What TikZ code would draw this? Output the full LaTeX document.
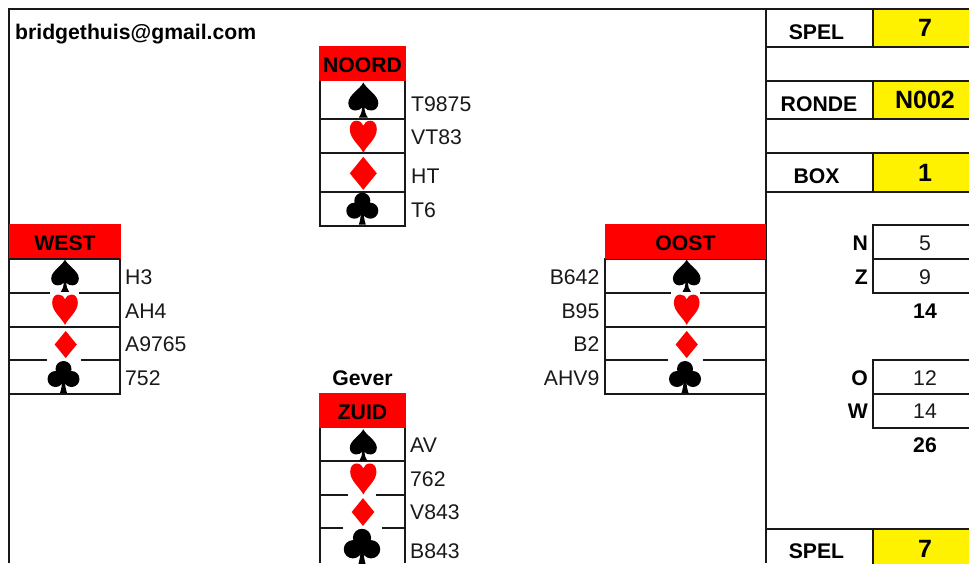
\documentclass[tikz,border=0pt]{standalone}
\usepackage{fontspec}
\setmainfont{Liberation Sans}
\usepackage{tikz}
\usetikzlibrary{positioning}

\tikzset{
  grid/.style={line width=1.5pt, black!90},
  label/.style={font=\fontsize{21.2}{21.2}\selectfont, inner sep=0pt, text=black!90},
  boldlabel/.style={label, font=\fontsize{21.2}{21.2}\selectfont\bfseries, text=black},
  header/.style={boldlabel, fill=red, minimum height=35pt, text height=18pt, text depth=0pt},
  valuecell/.style={font=\fontsize{25}{25}\selectfont\bfseries, fill=yellow, draw=black!90, line width=1.5pt,
    minimum width=104pt, inner sep=0pt, text=black},
  spadesuit/.pic={
    \fill[black] (0,-17.5) .. controls (-3,-11) and (-15,-5) .. (-15,3) .. controls (-15,8) and (-11.5,10.5) .. (-8,10.5)
      .. controls (-5,10.5) and (-3,9.5) .. (-1.2,7.5) .. controls (-1.2,11) and (-2.5,15) .. (-4.5,17.5) -- (4.5,17.5)
      .. controls (2.5,15) and (1.2,11) .. (1.2,7.5) .. controls (3,9.5) and (5,10.5) .. (8,10.5)
      .. controls (11.5,10.5) and (15,8) .. (15,3) .. controls (15,-5) and (3,-11) .. (0,-17.5) -- cycle;
  },
  heartsuit/.pic={
    \fill[red] (0,16) .. controls (-4,8) and (-13.5,2) .. (-13.5,-7.5) .. controls (-13.5,-13) and (-10.5,-16) .. (-7,-16)
      .. controls (-3.5,-16) and (-1,-14) .. (0,-11) .. controls (1,-14) and (3.5,-16) .. (7,-16)
      .. controls (10.5,-16) and (13.5,-13) .. (13.5,-7.5) .. controls (13.5,2) and (4,8) .. (0,16) -- cycle;
  },
  diamondsuit/.pic={
    \fill[red] (0,-16.5) -- (13.5,0) -- (0,16.5) -- (-13.5,0) -- cycle;
  },
  clubsuit/.pic={
    \fill[black] (0,-8) circle (8) (-8,2) circle (8) (8,2) circle (8) (0,0) circle (4);
    \fill[black] (-1.2,0) .. controls (-1.2,8) and (-2.5,13) .. (-3.5,16) -- (3.5,16) .. controls (2.5,13) and (1.2,8) .. (1.2,0) -- cycle;
  }
}

\begin{document}
\begin{tikzpicture}[x=1pt, y=-1pt]
\clip (0,0) rectangle (969,563);

% frame
\draw[grid] (9,563) -- (9,9) -- (969,9);
\draw[grid] (766,9) -- (766,563);
\node[boldlabel, anchor=base west] (mail) at (15,39) {bridgethuis@gmail.com};

% noord
\draw[grid] (320,81) -- (320,226) -- (405,226) -- (405,81);
\draw[grid] (320,119) -- (405,119);
\draw[grid] (320,153) -- (405,153);
\draw[grid] (320,192) -- (405,192);
\node[header, minimum width=87pt] (noord) at (362.5,63.5) {NOORD};
\pic (noordS) at (363.3,100) {spadesuit};
\pic (noordH) at (363.3,136.7) {heartsuit};
\pic (noordD) at (363.3,173.3) {diamondsuit};
\pic (noordC) at (362.3,208.7) {clubsuit};
\node[label, anchor=west] (noordST) at (411,104) {T9875};
\node[label, anchor=west] (noordHT) at (411,137) {VT83};
\node[label, anchor=west] (noordDT) at (411,176) {HT};
\node[label, anchor=west] (noordCT) at (411,210) {T6};

% west
\draw[grid] (9,394) -- (120,394) -- (120,259);
\draw[grid] (9,293) -- (50,293) (79,293) -- (120,293);
\draw[grid] (9,327) -- (120,327);
\draw[grid] (9,360) -- (47,360) (81,360) -- (120,360);
\node[header, minimum width=112pt] (west) at (65,241.5) {WEST};
\draw[grid] (9,259) -- (120,259);
\pic[scale=.92] (westS) at (65,275.7) {spadesuit};
\pic[scale=.95] (westH) at (65,309.7) {heartsuit};
\pic[scale=.82] (westD) at (65.7,344.5) {diamondsuit};
\pic (westC) at (63.5,377) {clubsuit};
\node[label, anchor=west] (westST) at (125,277) {H3};
\node[label, anchor=west] (westHT) at (125,311) {AH4};
\node[label, anchor=west] (westDT) at (125,344) {A9765};
\node[label, anchor=west] (westCT) at (125,378) {752};

% oost
\draw[grid] (766,394) -- (605,394) -- (605,259) -- (766,259);
\draw[grid] (605,293) -- (671,293) (700,293) -- (766,293);
\draw[grid] (605,327) -- (766,327);
\draw[grid] (605,360) -- (668,360) (703,360) -- (766,360);
\node[header, minimum width=161pt] (oost) at (685.5,241.5) {OOST};
\pic[scale=.92] (oostS) at (686.7,275.7) {spadesuit};
\pic[scale=.95] (oostH) at (686.7,309.7) {heartsuit};
\pic[scale=.82] (oostD) at (686.7,344.5) {diamondsuit};
\pic (oostC) at (685,377) {clubsuit};
\node[label, anchor=east] (oostST) at (599.5,277) {B642};
\node[label, anchor=east] (oostHT) at (599.5,311) {B95};
\node[label, anchor=east] (oostDT) at (599.5,344) {B2};
\node[label, anchor=east] (oostCT) at (599.5,378) {AHV9};

% zuid
\draw[grid] (320,428) -- (320,563);
\draw[grid] (405,428) -- (405,563);
\draw[grid] (320,461) -- (405,461);
\draw[grid] (320,495) -- (348,495) (376,495) -- (405,495);
\draw[grid] (320,528) -- (343,528) (382,528) -- (405,528);
\node[boldlabel] (gever) at (362.5,378) {Gever};
\node[header, minimum width=87pt] (zuid) at (362.5,410.5) {ZUID};
\pic[scale=.9] (zuidS) at (363.3,445) {spadesuit};
\pic[scale=.97] (zuidH) at (363.3,479) {heartsuit};
\pic[scale=.84] (zuidD) at (363,512) {diamondsuit};
\pic[scale=1.14] (zuidC) at (362,547) {clubsuit};
\node[label, anchor=west] (zuidST) at (410,445) {AV};
\node[label, anchor=west] (zuidHT) at (410,479) {762};
\node[label, anchor=west] (zuidDT) at (410,512) {V843};
\node[label, anchor=west] (zuidCT) at (410,551) {B843};

% spel, ronde, box
\draw[grid] (766,47) -- (873,47);
\draw[grid] (766,81) -- (873,81);
\draw[grid] (766,119) -- (873,119);
\draw[grid] (766,153) -- (873,153);
\draw[grid] (766,192) -- (969,192);
\draw[grid] (766,529) -- (873,529);
\node[valuecell, minimum height=38pt] (spelV) at (925,28) {7};
\node[valuecell, minimum height=38pt] (rondeV) at (925,100) {N002};
\node[valuecell, minimum height=39pt] (boxV) at (925,172.5) {1};
\node[valuecell, minimum height=40pt] (spelW) at (925,549) {7};
\node[boldlabel] (spelL) at (816.5,32) {SPEL};
\node[boldlabel] (rondeL) at (819,104) {RONDE};
\node[boldlabel] (boxL) at (816.5,176) {BOX};
\node[boldlabel] (spelM) at (816.5,551) {SPEL};

% n z
\draw[grid] (969,225) -- (873,225) -- (873,293) -- (969,293);
\draw[grid] (873,259) -- (969,259);
\node[boldlabel, anchor=east] (nL) at (868,243) {N};
\node[boldlabel, anchor=east] (zL) at (868,277) {Z};
\node[label] (nV) at (925,243) {5};
\node[label] (zV) at (925,277) {9};
\node[boldlabel] (nzV) at (925,311) {14};

% o w
\draw[grid] (969,360) -- (873,360) -- (873,428) -- (969,428);
\draw[grid] (873,394) -- (969,394);
\node[boldlabel, anchor=east] (oL) at (868,378) {O};
\node[boldlabel, anchor=east] (wL) at (868,411) {W};
\node[label] (oV) at (925,378) {12};
\node[label] (wV) at (925,411) {14};
\node[boldlabel] (owV) at (925,445) {26};

\end{tikzpicture}
\end{document}
